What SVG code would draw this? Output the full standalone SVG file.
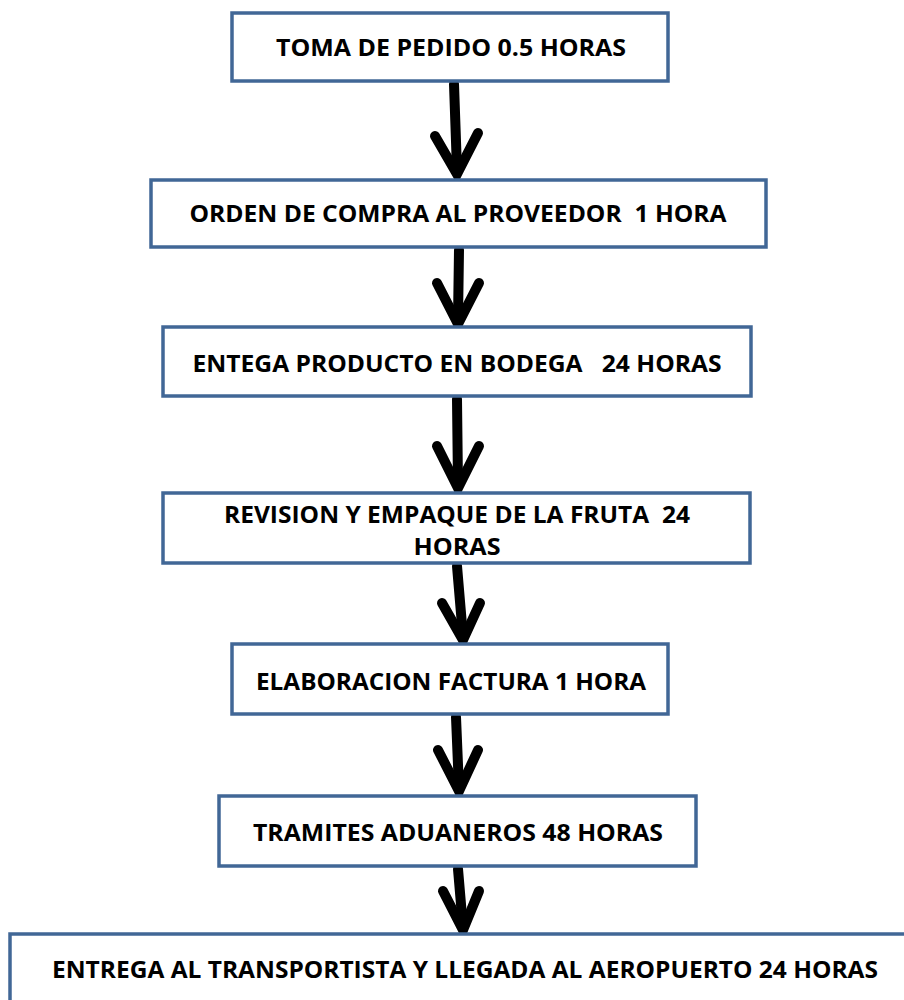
<svg xmlns="http://www.w3.org/2000/svg" width="904" height="1000" viewBox="0 0 904 1000">
<style>
.box{fill:#fff;stroke:#416796;stroke-width:3.5}
.t{font-family:"Open Sans","Liberation Sans",sans-serif;font-weight:bold;font-size:24px;fill:#000;text-anchor:middle;white-space:pre}
.a{fill:none;stroke:#000;stroke-width:10;stroke-linecap:round;stroke-linejoin:miter}
</style>
<rect width="904" height="1000" fill="#fff"/>
<g id="connectors">
<path class="a" d="M454,84 L457,170"/><path class="a" d="M435,136 L457,174 L478,133"/>
<path class="a" d="M459,250 L458,320"/><path class="a" d="M437,283 L458,324 L479,283"/>
<path class="a" d="M457,399 L458,486"/><path class="a" d="M437,446 L458,488 L479,446"/>
<path class="a" d="M457,566 L463,637"/><path class="a" d="M442,603 L463,640 L480,603"/>
<path class="a" d="M456,717 L459,789"/><path class="a" d="M438,750 L459,791 L478,750"/>
<path class="a" d="M458,869 L463,928"/><path class="a" d="M443,891 L463,930 L479,891"/>
</g>
<g id="n1"><rect class="box" x="232" y="13" width="436" height="68"/><text class="t" x="451" y="56" textLength="350" lengthAdjust="spacingAndGlyphs">TOMA DE PEDIDO 0.5 HORAS</text></g>
<g id="n2"><rect class="box" x="151" y="180" width="615" height="67"/><text class="t" x="458" y="222" textLength="537" lengthAdjust="spacingAndGlyphs" xml:space="preserve">ORDEN DE COMPRA AL PROVEEDOR  1 HORA</text></g>
<g id="n3"><rect class="box" x="163" y="327" width="588" height="69"/><text class="t" x="457" y="372" textLength="529" lengthAdjust="spacingAndGlyphs" xml:space="preserve">ENTEGA PRODUCTO EN BODEGA   24 HORAS</text></g>
<g id="n4"><rect class="box" x="163" y="493" width="587" height="70"/><text class="t" x="457" y="523" textLength="466" lengthAdjust="spacingAndGlyphs" xml:space="preserve">REVISION Y EMPAQUE DE LA FRUTA  24</text><text class="t" x="457" y="555" textLength="87" lengthAdjust="spacingAndGlyphs">HORAS</text></g>
<g id="n5"><rect class="box" x="232" y="644" width="436" height="70"/><text class="t" x="451" y="690" textLength="390" lengthAdjust="spacingAndGlyphs">ELABORACION FACTURA 1 HORA</text></g>
<g id="n6"><rect class="box" x="219" y="796" width="477" height="70"/><text class="t" x="458" y="841" textLength="410" lengthAdjust="spacingAndGlyphs">TRAMITES ADUANEROS 48 HORAS</text></g>
<g id="n7"><rect class="box" x="10" y="934" width="920" height="100"/><text class="t" x="465" y="978" textLength="826" lengthAdjust="spacingAndGlyphs">ENTREGA AL TRANSPORTISTA Y LLEGADA AL AEROPUERTO 24 HORAS</text></g>
</svg>
